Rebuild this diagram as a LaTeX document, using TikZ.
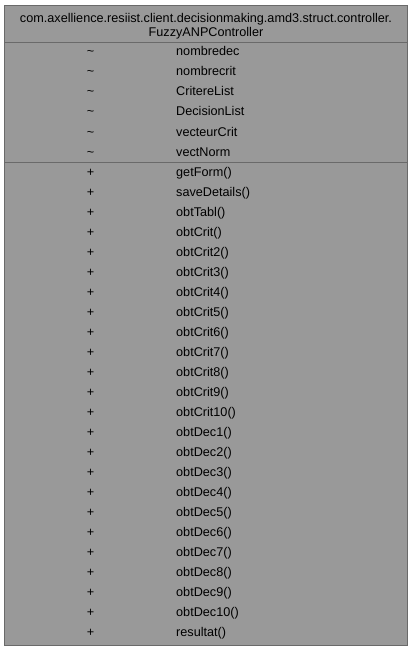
\documentclass[tikz,border=0pt]{standalone}
\usepackage{fontspec}
\setmainfont{Liberation Sans}
\definecolor{boxfill}{HTML}{999999}
\definecolor{boxline}{HTML}{6A6A6A}
\tikzset{
  vis/.style={anchor=base,inner sep=0pt},
  member/.style={anchor=base west,inner sep=0pt},
  head/.style={anchor=base,inner sep=0pt}
}
\begin{document}
\begin{tikzpicture}[x=1bp,y=-1bp,font=\fontsize{12.7}{14.2}\selectfont]
\useasboundingbox (0,0) rectangle (413,651);
\draw[boxline,fill=boxfill] (4.5,5) rectangle (407.5,645.5);
\draw[boxline] (4.5,42) -- (407.5,42);
\draw[boxline] (4.5,162) -- (407.5,162);
\node[head] (pkg) at (206,22.7) {com.axellience.resiist.client.decisionmaking.amd3.struct.controller.};
\node[head] (cls) at (206,36.7) {FuzzyANPController};
\node[vis] (v1) at (90.5,56) {\textasciitilde};
\node[member] (a1) at (176,56) {nombredec};
\node[vis] (v2) at (90.5,76) {\textasciitilde};
\node[member] (a2) at (176,76) {nombrecrit};
\node[vis] (v3) at (90.5,96) {\textasciitilde};
\node[member] (a3) at (176,96) {CritereList};
\node[vis] (v4) at (90.5,116) {\textasciitilde};
\node[member] (a4) at (176,116) {DecisionList};
\node[vis] (v5) at (90.5,136) {\textasciitilde};
\node[member] (a5) at (176,136) {vecteurCrit};
\node[vis] (v6) at (90.5,156) {\textasciitilde};
\node[member] (a6) at (176,156) {vectNorm};
\node[vis] (p1) at (90.5,176) {+};
\node[member] (m1) at (176,176) {getForm()};
\node[vis] (p2) at (90.5,196) {+};
\node[member] (m2) at (176,196) {saveDetails()};
\node[vis] (p3) at (90.5,216) {+};
\node[member] (m3) at (176,216) {obtTabl()};
\node[vis] (p4) at (90.5,236) {+};
\node[member] (m4) at (176,236) {obtCrit()};
\node[vis] (p5) at (90.5,256) {+};
\node[member] (m5) at (176,256) {obtCrit2()};
\node[vis] (p6) at (90.5,276) {+};
\node[member] (m6) at (176,276) {obtCrit3()};
\node[vis] (p7) at (90.5,296) {+};
\node[member] (m7) at (176,296) {obtCrit4()};
\node[vis] (p8) at (90.5,316) {+};
\node[member] (m8) at (176,316) {obtCrit5()};
\node[vis] (p9) at (90.5,336) {+};
\node[member] (m9) at (176,336) {obtCrit6()};
\node[vis] (p10) at (90.5,356) {+};
\node[member] (m10) at (176,356) {obtCrit7()};
\node[vis] (p11) at (90.5,376) {+};
\node[member] (m11) at (176,376) {obtCrit8()};
\node[vis] (p12) at (90.5,396) {+};
\node[member] (m12) at (176,396) {obtCrit9()};
\node[vis] (p13) at (90.5,416) {+};
\node[member] (m13) at (176,416) {obtCrit10()};
\node[vis] (p14) at (90.5,436) {+};
\node[member] (m14) at (176,436) {obtDec1()};
\node[vis] (p15) at (90.5,456) {+};
\node[member] (m15) at (176,456) {obtDec2()};
\node[vis] (p16) at (90.5,476) {+};
\node[member] (m16) at (176,476) {obtDec3()};
\node[vis] (p17) at (90.5,496) {+};
\node[member] (m17) at (176,496) {obtDec4()};
\node[vis] (p18) at (90.5,516) {+};
\node[member] (m18) at (176,516) {obtDec5()};
\node[vis] (p19) at (90.5,536) {+};
\node[member] (m19) at (176,536) {obtDec6()};
\node[vis] (p20) at (90.5,556) {+};
\node[member] (m20) at (176,556) {obtDec7()};
\node[vis] (p21) at (90.5,576) {+};
\node[member] (m21) at (176,576) {obtDec8()};
\node[vis] (p22) at (90.5,596) {+};
\node[member] (m22) at (176,596) {obtDec9()};
\node[vis] (p23) at (90.5,616) {+};
\node[member] (m23) at (176,616) {obtDec10()};
\node[vis] (p24) at (90.5,636) {+};
\node[member] (m24) at (176,636) {resultat()};
\end{tikzpicture}
\end{document}
